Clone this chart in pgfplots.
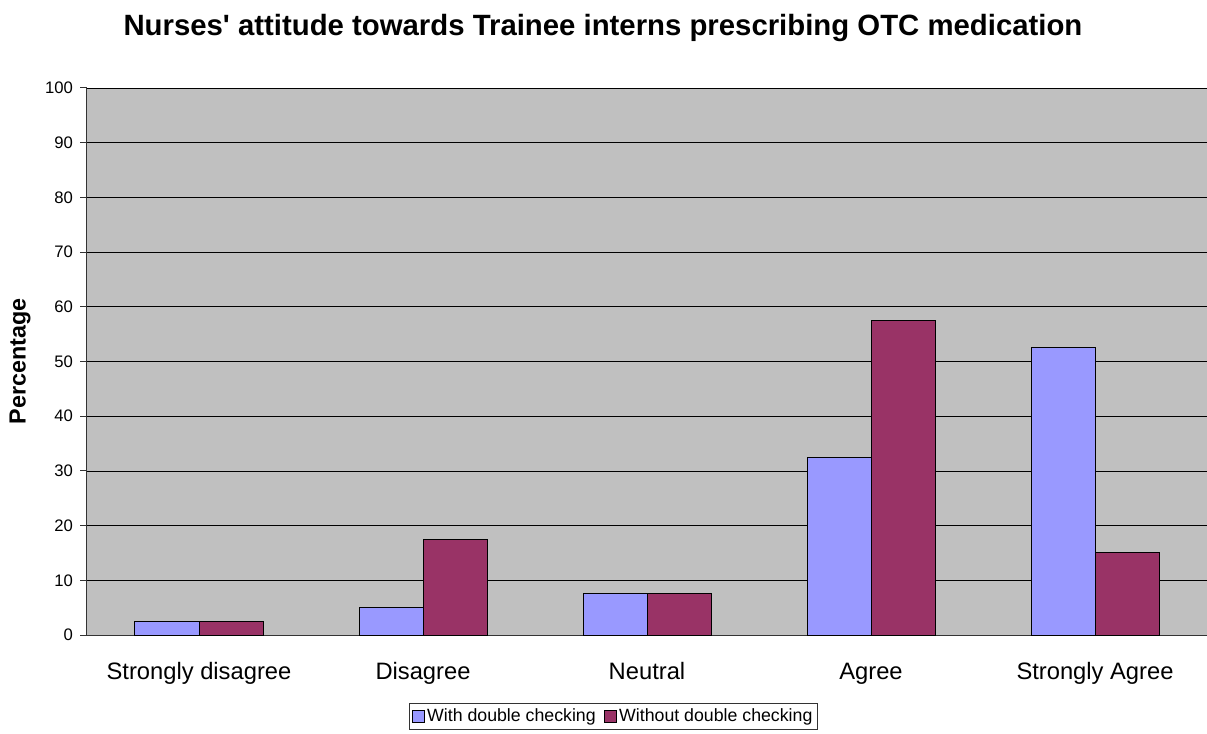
\documentclass[border=0pt]{standalone}
\usepackage{pgfplots}
\pgfplotsset{compat=1.18}
\usepackage{fontspec}
\setmainfont{Liberation Sans}
\definecolor{cblue}{HTML}{9999FF}
\definecolor{cmaroon}{HTML}{993366}
\definecolor{plotbg}{HTML}{C0C0C0}
\begin{document}
\begin{tikzpicture}
\begin{axis}[
  at={(0pt,0pt)}, anchor=south west,
  scale only axis,
  width=840pt, height=410.25pt,
  xmin=-0.5, xmax=4.5, ymin=0, ymax=100,
  ybar=0pt, bar width=48pt,
  /pgf/number format/assume math mode=true,
  axis background/.style={fill=plotbg},
  axis x line*=bottom, axis y line*=left,
  axis line style={black!80, line width=0.75pt},
  xtick={0,1,2,3,4},
  xticklabels={Strongly disagree,Disagree,Neutral,Agree,Strongly Agree},
  x tick style={draw=none},
  extra x ticks={-0.5,0.5,1.5,2.5,3.5},
  extra x tick labels={},
  extra x tick style={tick style={draw=black!80, line width=0.75pt}, major tick length=6pt, tick align=outside, grid=none},
  xticklabel style={font=\fontsize{17.8}{20}\selectfont, anchor=base, yshift=-28pt},
  ytick={0,10,...,100},
  y tick style={draw=black!80, line width=0.75pt},
  major tick length=5pt, tick align=outside,
  yticklabel style={font=\fontsize{12.5}{14}\selectfont, xshift=-2pt},
  ymajorgrids, grid style={black, line width=0.6pt},
  ylabel={\bfseries Percentage},
  ylabel style={font=\fontsize{17.5}{20}\selectfont, at={(axis description cs:-0.0598,0.5)}, anchor=center, rotate=0},
  title={\bfseries Nurses\textquotesingle{} attitude towards Trainee interns prescribing OTC medication},
  title style={font=\fontsize{22}{24}\selectfont, at={(axis description cs:0.4607,1)}, anchor=center, yshift=39pt},
  legend style={at={(axis description cs:0.47,0)}, anchor=north, yshift=-51pt, draw=black!80, line width=0.5pt, font=\fontsize{13.3}{15}\selectfont, legend columns=2, inner sep=2pt, /tikz/every even column/.append style={column sep=4pt}},
  legend image code/.code={\draw[#1, line width=0.6pt] (0pt,-4.5pt) rectangle (9pt,4.5pt);},
]
\addplot[fill=cblue, draw=black, line width=0.75pt] coordinates {(0,2.5) (1,5) (2,7.5) (3,32.5) (4,52.5)};
\addplot[fill=cmaroon, draw=black, line width=0.75pt] coordinates {(0,2.5) (1,17.5) (2,7.5) (3,57.5) (4,15)};
\legend{With double checking,Without double checking}
\end{axis}
\pgfresetboundingbox
\path[use as bounding box] (-65.25pt,-73.5pt) rectangle (840pt,476.25pt);
\end{tikzpicture}
\end{document}
